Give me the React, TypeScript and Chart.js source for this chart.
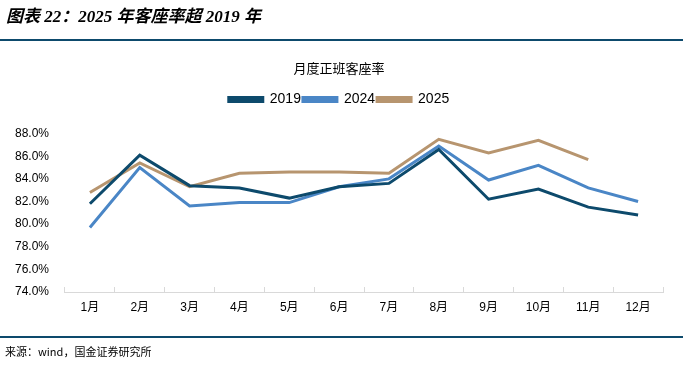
import React, { useEffect, useRef } from "react";
import { Chart, registerables } from "chart.js";

Chart.register(...registerables);

const months = ["1月", "2月", "3月", "4月", "5月", "6月", "7月", "8月", "9月", "10月", "11月", "12月"];
const s2019 = [81.8, 86.1, 83.4, 83.2, 82.3, 83.3, 83.6, 86.6, 82.2, 83.1, 81.5, 80.8];
const s2024 = [79.7, 85.0, 81.6, 81.9, 81.9, 83.3, 84.0, 86.9, 83.9, 85.2, 83.2, 82.0];
const s2025 = [82.8, 85.4, 83.3, 84.5, 84.6, 84.6, 84.5, 87.5, 86.3, 87.4, 85.7];
const yTicks = { min: 74, max: 88, step: 2 };

const headerText = "图表 22：2025 年客座率超 2019 年";
const chartTitle = "月度正班客座率";
const sourceText = "来源：wind，国金证券研究所";

const C2019 = "#0d4a6c";
const C2024 = "#4a86c6";
const C2025 = "#b7956f";
const RULE = "#0d4a6c";

const framePlugin = {
  id: "frame",
  afterDraw(chart: any) {
    const ctx = chart.ctx;
    ctx.save();
    ctx.fillStyle = "#000";
    ctx.textBaseline = "middle";
    ctx.textAlign = "left";
    ctx.font = "italic bold 17px 'Liberation Serif', 'Noto Sans CJK SC', serif";
    ctx.fillText(headerText, 6, 18);
    ctx.strokeStyle = RULE;
    ctx.lineWidth = 2;
    ctx.beginPath();
    ctx.moveTo(0, 40);
    ctx.lineTo(683, 40);
    ctx.stroke();
    ctx.beginPath();
    ctx.moveTo(0, 337);
    ctx.lineTo(683, 337);
    ctx.stroke();
    ctx.font = "11px 'Noto Sans CJK SC', sans-serif";
    ctx.fillText(sourceText, 5, 352);
    ctx.restore();
  },
};

export default function App() {
  const ref = useRef<HTMLCanvasElement | null>(null);
  useEffect(() => {
    if (!ref.current) return;
    const mk = (label: string, data: number[], color: string) => ({
      label,
      data,
      borderColor: color,
      backgroundColor: color,
      borderWidth: 3,
      pointRadius: 0,
      tension: 0,
      fill: false,
    });
    const chart = new Chart(ref.current, {
      type: "line",
      data: {
        labels: months,
        datasets: [mk("2019", s2019, C2019), mk("2024", s2024, C2024), mk("2025", s2025, C2025)],
      },
      options: {
        animation: false,
        responsive: false,
        maintainAspectRatio: false,
        layout: { padding: { top: 41, left: 15, right: 31, bottom: 43 } },
        plugins: {
          title: {
            display: true,
            text: chartTitle,
            color: "#000",
            font: { family: "'Noto Sans CJK SC', sans-serif", size: 13, weight: "normal", lineHeight: 1.2 },
            padding: { top: 19, bottom: 15 },
          },
          subtitle: {
            display: true,
            text: " ",
            weight: 500,
            font: { size: 1, lineHeight: 1 },
            padding: { top: 8, bottom: 8 },
          } as any,
          legend: {
            display: true,
            labels: {
              boxWidth: 34,
              boxHeight: 4,
              padding: 2,
              color: "#000",
              font: { family: "'Liberation Sans', Arial, sans-serif", size: 14 },
            },
          },
          tooltip: { enabled: false },
        },
        scales: {
          x: {
            offset: true,
            grid: {
              offset: true,
              drawOnChartArea: false,
              drawTicks: true,
              tickLength: -5,
              color: "#d9d9d9",
            },
            border: { display: true, color: "#d9d9d9", width: 1 },
            ticks: {
              color: "#000",
              padding: 13,
              font: { family: "'Liberation Sans', 'Noto Sans CJK SC', sans-serif", size: 12 },
              maxRotation: 0,
              autoSkip: false,
            },
            afterFit(scale: any) {
              scale.height = 30;
            },
          },
          y: {
            min: yTicks.min,
            max: yTicks.max,
            grid: { display: false },
            border: { display: false },
            ticks: {
              stepSize: yTicks.step,
              color: "#000",
              padding: 8,
              font: { family: "'Liberation Sans', Arial, sans-serif", size: 12 },
              callback: (v: any) => Number(v).toFixed(1) + "%",
            },
            afterFit(scale: any) {
              scale.width = 50;
            },
          },
        },
      },
      plugins: [framePlugin],
    });
    return () => chart.destroy();
  }, []);
  return (
    <div style={{ position: "absolute", left: 0, top: 0, width: 694, height: 365, background: "#fff" }}>
      <canvas ref={ref} width={694} height={365} style={{ display: "block", width: 694, height: 365 }} />
    </div>
  );
}
